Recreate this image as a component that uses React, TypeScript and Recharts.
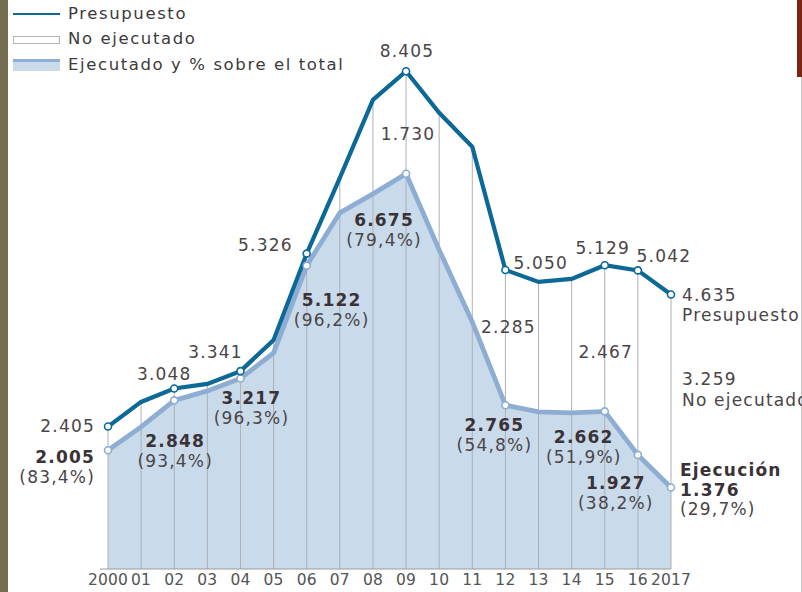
import { ComposedChart, Area, Line, XAxis, YAxis, ReferenceLine, LabelList } from "recharts";

const years = ["2000", "01", "02", "03", "04", "05", "06", "07", "08", "09", "10", "11", "12", "13", "14", "15", "16", "2017"];
const presupuesto = [2405, 2821, 3048, 3125, 3341, 3868, 5326, 6605, 7922, 8405, 7703, 7128, 5050, 4848, 4899, 5129, 5042, 4635];
const ejecutado = [2005, 2399, 2848, 3007, 3217, 3649, 5122, 6014, 6334, 6675, 5389, 4172, 2765, 2652, 2635, 2662, 1927, 1376];
// years with a value label and a marker
const marked = [0, 2, 4, 6, 9, 12, 15, 16, 17];

const data = years.map((year, i) => ({
  year,
  presupuesto: presupuesto[i],
  ejecutado: ejecutado[i],
}));

const DARK = "#0b6897";
const LIGHT = "#8eadd3";
const FILL = "#c9daea";
const FONT = "'DejaVu Sans', sans-serif";
const TXT = "#4a4548";
const BOLD = "#3a3236";

// label placement (offsets from the point, text centre)
const presPos: Record<number, [string, number, number]> = {
  0: ["end", -13, -1],
  2: ["middle", -10, -14],
  4: ["middle", -25, -19],
  6: ["end", -14, -9],
  9: ["middle", 1, -20],
  12: ["start", 8, -7],
  15: ["middle", -2, -17],
  16: ["middle", 26, -14],
  17: ["start", 11, 0],
};
const execPos: Record<number, [string, number, number]> = {
  0: ["end", -13, 7],
  2: ["middle", 1, 41],
  4: ["middle", 11, 20],
  6: ["middle", 25, 34],
  9: ["middle", -22, 46],
  12: ["middle", -11, 20],
  15: ["middle", -21, 26],
  16: ["middle", -22, 28],
  17: ["start", 9, 2],
};
const noEjecPos: Record<number, [string, number, number]> = {
  9: ["middle", 2, 63],
  12: ["middle", 3, 57],
  15: ["middle", 1, 87],
  17: ["start", 11, 84],
};

const fmt = (n: number) => String(n).replace(/\B(?=(\d{3})+(?!\d))/g, ".");
const pct = (i: number) => ((ejecutado[i] / presupuesto[i]) * 100).toFixed(1).replace(".", ",");

const txt = (x: number, y: number, anchor: string, s: string, bold = false, key?: string) => (
  <text
    key={key}
    x={x}
    y={y}
    textAnchor={anchor as any}
    dominantBaseline="central"
    fontFamily={FONT}
    fontSize={17}
    fontWeight={bold ? 700 : 400}
    letterSpacing={1.2}
    fill={bold ? BOLD : TXT}
  >
    {s}
  </text>
);

const presLabel = (props: any) => {
  const { x, y, index } = props;
  const out: any[] = [];
  const p = presPos[index];
  if (p) {
    out.push(txt(x + p[1], y + p[2], p[0], fmt(presupuesto[index]), false, "p"));
    if (index === 17) out.push(txt(x + p[1], y + p[2] + 20, p[0], "Presupuesto", false, "p2"));
  }
  const n = noEjecPos[index];
  if (n) {
    out.push(txt(x + n[1], y + n[2], n[0], fmt(presupuesto[index] - ejecutado[index]), false, "n"));
    if (index === 17) out.push(txt(x + n[1], y + n[2] + 21, n[0], "No ejecutado", false, "n2"));
  }
  return <g key={"pl" + index}>{out}</g>;
};

const execLabel = (props: any) => {
  const { x, y, index } = props;
  const p = execPos[index];
  if (!p) return <g key={"el" + index} />;
  if (index === 17) {
    return (
      <g key={"el" + index}>
        {txt(x + p[1], y - 18, "start", "Ejecución", true, "a")}
        {txt(x + p[1], y + 2, "start", fmt(ejecutado[index]), true, "b")}
        {txt(x + p[1], y + 21, "start", `(${pct(index)}%)`, false, "c")}
      </g>
    );
  }
  return (
    <g key={"el" + index}>
      {txt(x + p[1], y + p[2], p[0], fmt(ejecutado[index]), true, "a")}
      {txt(x + p[1], y + p[2] + 20, p[0], `(${pct(index)}%)`, false, "b")}
    </g>
  );
};

const makeDot = (color: string, list: number[]) => (props: any) => {
  const { cx, cy, index } = props;
  if (!list.includes(index)) return <g key={"d" + index} />;
  return <circle key={"d" + index} cx={cx} cy={cy} r={3.5} fill="#fff" stroke={color} strokeWidth={1.6} />;
};

function LegendBox() {
  const row = { position: "absolute" as const, left: 68, fontFamily: FONT, fontSize: 16.5, letterSpacing: 1.6, color: "#3c3a3b", lineHeight: "20px" };
  return (
    <>
      <div style={{ position: "absolute", left: 13, top: 13, width: 47, height: 2, background: DARK }} />
      <div style={{ ...row, top: 4 }}>Presupuesto</div>
      <div style={{ position: "absolute", left: 13, top: 36, width: 45, height: 6, border: "1px solid #b5b5b5", background: "#fff" }} />
      <div style={{ ...row, top: 29 }}>No ejecutado</div>
      <div style={{ position: "absolute", left: 13, top: 59, width: 47, height: 9, background: FILL, borderTop: `3px solid ${LIGHT}` }} />
      <div style={{ ...row, top: 55 }}>Ejecutado y % sobre el total</div>
    </>
  );
}

export default function App() {
  return (
    <div style={{ position: "absolute", left: 0, top: 0, width: 802, height: 592, overflow: "hidden", background: "#fff" }}>
      <div style={{ position: "absolute", left: 0, top: 0, width: 8, height: 592, background: "#756d4f" }} />
      <div style={{ position: "absolute", left: 797, top: 0, width: 5, height: 77, background: "#7b2411" }} />
      <div style={{ position: "absolute", left: 801, top: 77, width: 1, height: 515, background: "#c8c8c8" }} />
      <div style={{ position: "absolute", left: 0, top: 0 }}>
        <ComposedChart width={802} height={592} data={data} margin={{ top: 36, right: 131, bottom: 0, left: 100 }}>
          <XAxis
            dataKey="year"
            scale="point"
            padding={{ left: 8, right: 0 }}
            height={23}
            tickLine={false}
            tickSize={0}
            axisLine={{ stroke: "#9a9a9a" }}
            interval={0}
            tickMargin={5}
            tick={{ fill: "#545454", fontSize: 15.5, fontFamily: FONT, letterSpacing: 0.2 }}
          />
          <YAxis hide domain={[0, 9000]} />
          <Area
            dataKey="ejecutado"
            type="linear"
            fill={FILL}
            fillOpacity={1}
            stroke="none"
            isAnimationActive={false}
          />
          {years.map((y, i) => (
            <ReferenceLine
              key={"g" + y}
              segment={[
                { x: y, y: 0 },
                { x: y, y: presupuesto[i] },
              ]}
              stroke="#adb0b5"
              strokeWidth={1}
            />
          ))}
          <Line
            dataKey="ejecutado"
            type="linear"
            stroke={LIGHT}
            strokeWidth={4.8}
            dot={makeDot(LIGHT, marked)}
            activeDot={false}
            isAnimationActive={false}
          >
            <LabelList dataKey="ejecutado" content={execLabel} />
          </Line>
          <Line
            dataKey="presupuesto"
            type="linear"
            stroke={DARK}
            strokeWidth={4.2}
            dot={makeDot(DARK, marked)}
            activeDot={false}
            isAnimationActive={false}
          >
            <LabelList dataKey="presupuesto" content={presLabel} />
          </Line>
        </ComposedChart>
      </div>
      <LegendBox />
    </div>
  );
}
